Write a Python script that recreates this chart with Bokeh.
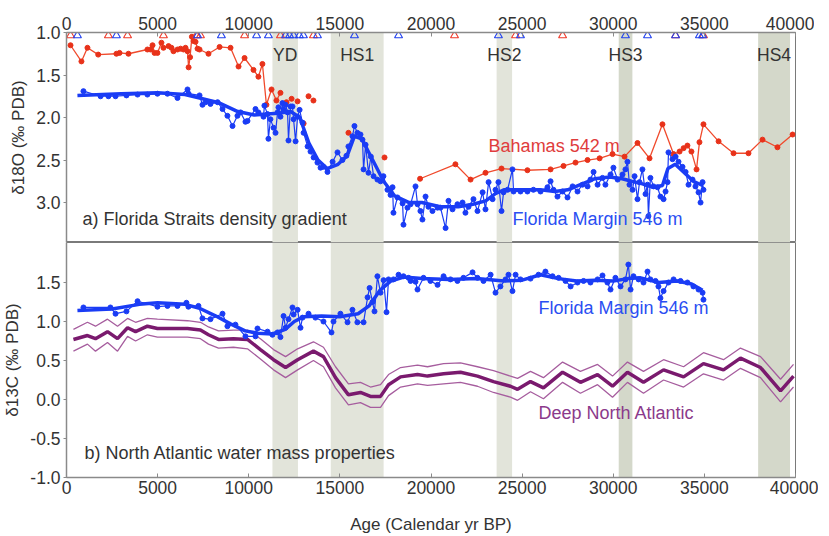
from bokeh.plotting import figure
from bokeh.models import Range1d, FixedTicker, NumeralTickFormatter, BoxAnnotation, Label
from bokeh.layouts import column
from bokeh.embed import file_html
from bokeh.resources import INLINE

# ---------------- data ----------------
x_ticks = [0, 5000, 10000, 15000, 20000, 25000, 30000, 35000, 40000]
top_yticks = [1.0, 1.5, 2.0, 2.5, 3.0]
bot_yticks = [-1.0, -0.5, 0.0, 0.5, 1.0, 1.5]

band_names = ["YD", "HS1", "HS2", "HS3", "HS4"]
band_left = [11300, 14500, 23600, 30300, 37950]
band_right = [12700, 17400, 24450, 31050, 39700]

# Bahamas 542 m d18O
bah1_age = [220, 820, 1150, 1740, 2740, 2910, 3400, 4440, 4610, 4720, 4830, 4990, 5210, 5320,
            5600, 5760, 5870, 6090, 6260, 6420, 6530, 6640, 6700, 6780, 6880, 6970, 7080, 7190,
            7300, 7790, 8400, 9000, 9440, 9770, 10260, 10530, 10750, 10970, 11250, 11520, 11740]
bah1_val = [1.15, 1.34, 1.18, 1.26, 1.25, 1.24, 1.25, 1.20, 1.20, 1.15, 1.24, 1.24, 1.12, 1.18,
            1.16, 1.18, 1.22, 1.20, 1.19, 1.20, 1.18, 1.22, 1.41, 1.29, 1.05, 1.10, 1.11, 1.19,
            1.20, 1.25, 1.17, 1.18, 1.40, 1.30, 1.44, 1.52, 1.37, 1.85, 1.67, 1.80, 1.71]
bah_dot_age = [12070, 12350, 12680, 13010, 13280, 13550, 15470, 17450]
bah_dot_val = [1.82, 1.78, 1.81, 2.07, 1.75, 1.80, 2.18, 2.47]
bah2_age = [19400, 21340, 22170, 22990, 23870, 25290, 26560, 27270, 27930, 28590, 29250, 29960,
            30620, 31330, 31990, 32700, 33310, 33640, 33860, 34070, 34290, 34570, 34730, 34950,
            35780, 36600, 37420, 38190, 39010, 39840]
bah2_val = [2.72, 2.55, 2.73, 2.65, 2.60, 2.62, 2.61, 2.57, 2.53, 2.50, 2.48, 2.43,
            2.46, 2.30, 2.48, 2.08, 2.43, 2.40, 2.36, 2.33, 2.40, 2.61, 2.29, 2.08,
            2.28, 2.42, 2.42, 2.26, 2.35, 2.20]

# Florida Margin 546 m d18O (raw)
fm_o_age = [930, 1870, 2300, 2690, 3290, 3900, 4440, 4990, 5540, 6090, 6640, 6700, 7300, 7460,
            7630, 7900, 8290, 8560, 8830, 9110, 9380, 9550, 9820, 9930, 10370, 10530, 10810,
            10860, 11030, 11080, 11190, 11360, 11470, 11580, 11630, 11740, 11850, 11910, 12020,
            12130, 12180, 12290, 12400, 12460, 12570, 12680, 12790, 12950, 13010, 13230, 13390,
            13560, 13770, 13940, 14100, 14320, 14600, 14870, 15140, 15360, 15470, 15690, 15800,
            15960, 16130, 16240, 16300, 16410, 16570, 16700, 16850, 17060, 17230, 17390, 17610,
            17780, 17890, 17940, 18160, 18440, 18490, 18710, 18880, 19150, 19260, 19420, 19530,
            19700, 19860, 20080, 20360, 20520, 20800, 20960, 21180, 21450, 21730, 21890, 22060,
            22330, 22550, 22830, 22990, 23160, 23380, 23540, 23700, 23870, 23980, 24200, 24470,
            24530, 24910, 25290, 25620, 26010, 26390, 26560, 26720, 26940, 27220, 27490, 27770,
            28040, 28310, 28590, 28750, 28920, 29140, 29410, 29570, 29850, 30010, 30240, 30510,
            30670, 30780, 30890, 31060, 31170, 31330, 31440, 31600, 31770, 31880, 31930, 32040,
            32210, 32430, 32590, 32760, 32870, 32980, 33030, 33250, 33420, 33580, 33800, 33970,
            34130, 34350, 34510, 34680, 34790, 34900, 34950]
fm_o_val = [1.69, 1.75, 1.75, 1.75, 1.74, 1.73, 1.73, 1.72, 1.72, 1.77, 1.67, 1.72, 1.74, 1.85,
            1.82, 1.84, 1.82, 1.90, 1.98, 2.10, 1.98, 1.94, 2.05, 2.04, 1.90, 1.94, 1.99,
            1.86, 1.96, 2.25, 2.02, 2.12, 2.18, 1.94, 1.88, 1.99, 1.83, 1.91, 1.85,
            1.94, 2.27, 1.87, 1.87, 2.02, 2.28, 1.99, 1.91, 2.06, 2.18, 2.34, 2.40,
            2.47, 2.53, 2.59, 2.58, 2.64, 2.52, 2.41, 2.50, 2.45, 2.34, 2.22, 2.10,
            2.18, 2.20, 2.26, 2.61, 2.32, 2.65, 2.46, 2.69, 2.73, 2.75, 2.69, 2.85,
            2.91, 2.82, 3.12, 2.94, 3.01, 3.26, 3.06, 3.02, 2.81, 3.02, 3.10, 3.20,
            2.93, 3.05, 3.10, 3.06, 3.06, 3.30, 2.98, 3.08, 3.02, 3.00, 3.12, 3.05,
            2.96, 3.10, 2.88, 3.08, 2.76, 2.96, 2.85, 2.76, 3.10, 2.88, 2.85, 2.61,
            2.87, 2.87, 2.87, 2.85, 2.87, 2.82, 2.75, 2.85, 2.93, 2.87, 2.94, 2.81,
            2.87, 2.79, 2.81, 2.73, 2.64, 2.79, 2.71, 2.79, 2.67, 2.59, 2.73, 2.67,
            2.61, 2.52, 2.79, 2.85, 2.69, 2.96, 2.76, 2.61, 2.90, 2.79, 3.16, 2.71,
            2.81, 2.82, 2.93, 2.96, 2.87, 2.76, 2.41, 2.49, 2.46, 2.52, 2.58, 2.64,
            2.79, 2.73, 2.81, 2.88, 3.00, 2.76, 2.85]
# Florida Margin d18O smoothed
fm_o_sm_age = [600, 3000, 5000, 6500, 7300, 8400, 9400, 10300, 11000, 11600, 12300, 12800, 13300,
               13800, 14300, 14900, 15400, 15800, 16200, 16800, 17400, 18000, 18800, 19500, 20500,
               21500, 22300, 23000, 23500, 24000, 25000, 26000, 26800, 27500, 28300, 29000, 29800,
               30500, 31000, 31600, 32200, 32700, 33000, 33400, 33900, 34400, 34900]
fm_o_sm_val = [1.74, 1.72, 1.71, 1.73, 1.77, 1.83, 1.93, 1.97, 1.96, 1.95, 1.93, 2.00, 2.30,
               2.50, 2.60, 2.55, 2.45, 2.22, 2.25, 2.50, 2.75, 2.92, 3.00, 3.00, 3.05,
               3.05, 3.02, 2.98, 2.90, 2.85, 2.85, 2.85, 2.87, 2.85, 2.78, 2.72, 2.70,
               2.72, 2.75, 2.78, 2.82, 2.80, 2.60, 2.55, 2.65, 2.75, 2.80]

# Florida Margin 546 m d13C (raw)
fm_c_age = [930, 2410, 2690, 3290, 3900, 4990, 5540, 6090, 6580, 6690, 7240, 7460, 7900, 8560,
            8830, 9270, 9820, 10370, 10480, 11030, 11300, 11580, 11740, 11910, 12020, 12180,
            12400, 12460, 12680, 12840, 12950, 13280, 13660, 14100, 14540, 14650, 15030, 15420,
            15690, 15960, 16300, 16520, 16630, 16790, 16900, 17060, 17230, 17400, 17560, 17670,
            17940, 18220, 18490, 18770, 18880, 19150, 19260, 19590, 19970, 20360, 20690, 21070,
            21450, 21780, 22280, 22550, 22880, 23270, 23540, 23810, 24090, 24250, 24470, 24640,
            24910, 25460, 25900, 26280, 26670, 27000, 27380, 27660, 28040, 28370, 28750, 29140,
            29410, 29680, 29850, 30120, 30400, 30670, 30830, 30950, 31110, 31390, 31660, 31880,
            32040, 32320, 32480, 32590, 32760, 33030, 33310, 33690, 34070, 34400, 34680, 34900,
            34950]
fm_c_val = [1.18, 1.18, 1.10, 1.13, 1.26, 1.19, 1.20, 1.20, 1.24, 1.19, 1.20, 1.04, 1.03, 1.10,
            0.94, 0.96, 0.81, 0.81, 0.91, 0.87, 0.83, 0.86, 0.80, 1.07, 0.92, 1.03,
            1.18, 1.09, 1.15, 0.92, 1.05, 1.10, 1.05, 1.00, 0.86, 1.00, 1.10, 0.99,
            1.15, 0.99, 0.99, 1.31, 1.43, 1.25, 1.13, 1.58, 1.37, 1.53, 1.12, 1.54,
            1.54, 1.60, 1.58, 1.56, 1.52, 1.51, 1.41, 1.56, 1.52, 1.47, 1.58, 1.54,
            1.52, 1.56, 1.63, 1.56, 1.52, 1.60, 1.37, 1.45, 1.54, 1.60, 1.39, 1.60,
            1.54, 1.55, 1.60, 1.64, 1.58, 1.56, 1.52, 1.45, 1.50, 1.52, 1.50, 1.54,
            1.59, 1.50, 1.41, 1.56, 1.45, 1.54, 1.73, 1.41, 1.58, 1.54, 1.50, 1.64,
            1.54, 1.52, 1.45, 1.30, 1.39, 1.50, 1.54, 1.52, 1.50, 1.45, 1.41, 1.37,
            1.28]
fm_c_sm_age = [600, 2500, 4000, 5000, 6500, 7300, 8200, 9000, 9800, 10500, 11300, 12000, 12500,
               13000, 14000, 15000, 16000, 16600, 17200, 17800, 18500, 19500, 21000, 22500,
               24000, 25000, 26000, 27000, 28000, 29000, 30000, 30800, 31500, 32500, 33500,
               34300, 34900]
fm_c_sm_val = [1.14, 1.16, 1.22, 1.24, 1.22, 1.17, 1.07, 0.97, 0.88, 0.85, 0.84, 0.90, 1.00,
               1.06, 1.07, 1.06, 1.10, 1.20, 1.40, 1.52, 1.57, 1.55, 1.54, 1.55,
               1.52, 1.53, 1.60, 1.55, 1.52, 1.53, 1.52, 1.55, 1.56, 1.50, 1.52,
               1.48, 1.40]

# Deep North Atlantic d13C
dna_age = [380, 1150, 1590, 2250, 2800, 3350, 3790, 4440, 4990, 6640, 7350, 7790, 8340, 9160,
           9930, 10640, 11360, 12020, 12680, 13550, 14100, 14760, 15470, 16130, 16680, 17230,
           17670, 18330, 19260, 19810, 20690, 21620, 22550, 23430, 24360, 24750, 25460, 26170,
           27220, 28200, 29140, 29960, 30780, 31660, 32760, 33860, 34950, 36050, 36980, 38080,
           39180, 39890]
dna_mid = [0.77, 0.82, 0.78, 0.87, 0.78, 0.92, 0.87, 0.94, 0.91, 0.91, 0.89, 0.83, 0.77, 0.78,
           0.77, 0.64, 0.51, 0.41, 0.51, 0.62, 0.55, 0.28, 0.06, 0.09, 0.04, 0.04,
           0.19, 0.29, 0.32, 0.30, 0.33, 0.35, 0.30, 0.23, 0.17, 0.13, 0.23, 0.15,
           0.35, 0.22, 0.32, 0.17, 0.35, 0.22, 0.38, 0.29, 0.46, 0.38, 0.53, 0.41,
           0.11, 0.30]
dna_upper = [0.90, 0.99, 0.94, 1.03, 0.94, 1.04, 0.99, 1.04, 1.03, 1.01, 0.99, 0.93, 0.88, 0.89,
             0.89, 0.78, 0.64, 0.55, 0.65, 0.74, 0.67, 0.42, 0.20, 0.22, 0.16, 0.19,
             0.32, 0.41, 0.44, 0.42, 0.46, 0.47, 0.42, 0.37, 0.30, 0.27, 0.36, 0.28,
             0.48, 0.36, 0.45, 0.30, 0.48, 0.36, 0.51, 0.42, 0.60, 0.51, 0.66, 0.55,
             0.26, 0.45]
dna_lower = [0.62, 0.71, 0.62, 0.73, 0.62, 0.81, 0.75, 0.83, 0.80, 0.80, 0.78, 0.71, 0.66, 0.67,
             0.65, 0.52, 0.38, 0.28, 0.38, 0.50, 0.42, 0.15, -0.07, -0.04, -0.10, -0.10,
             0.05, 0.16, 0.20, 0.18, 0.20, 0.22, 0.17, 0.09, 0.03, -0.01, 0.10, 0.01,
             0.22, 0.08, 0.19, 0.03, 0.22, 0.08, 0.25, 0.16, 0.33, 0.25, 0.40, 0.28,
             -0.03, 0.16]

# age control points (top)
red_ctrl_age = [220, 2300, 3350, 5320, 7130, 7350, 9770, 11740, 13550, 21290, 24640, 27220,
                33420, 34950]
blue_ctrl_age = [600, 2740, 7190, 8500, 10430, 11080, 12020, 12240, 12460, 12780, 13000, 13770,
                 15800, 18220, 23700, 24910, 30670, 31880, 33420, 34730, 34900]

# ---------------- style ----------------
FONT = "Liberation Sans"
TXT = "#333333"
AXC = "#8a8a8a"
RED = "#f04a2c"
REDDOT = "#e8321a"
BLUE = "#1a3cf5"
PURPLE = "#7a1a6e"
PURPLE_T = "#a65d9e"
band_colors = ["#e2e4da", "#e2e4da", "#e2e4da", "#d4d8ca", "#d4d8ca"]
TICK_FS = "17.5px"
ANN_FS = "18px"


def style(p, yticks):
    p.xgrid.visible = False
    p.ygrid.visible = False
    p.outline_line_color = "#7a7a7a"
    p.outline_line_width = 1
    p.background_fill_color = "white"
    p.border_fill_color = "white"
    for ax in p.xaxis:
        ax.ticker = FixedTicker(ticks=x_ticks)
        ax.formatter = NumeralTickFormatter(format="0")
        ax.axis_line_color = AXC
        ax.axis_line_width = 1.5
        ax.major_tick_line_color = AXC
        ax.major_tick_in = 4
        ax.major_tick_out = 0
        ax.minor_tick_line_color = None
        ax.major_label_text_font = FONT
        ax.major_label_text_font_size = TICK_FS
        ax.major_label_text_color = TXT
        ax.major_label_standoff = 3
    for ax in p.yaxis:
        ax.ticker = FixedTicker(ticks=yticks)
        ax.formatter = NumeralTickFormatter(format="0.0")
        ax.axis_line_color = AXC
        ax.axis_line_width = 1.5
        ax.major_tick_line_color = AXC
        ax.major_tick_in = 0
        ax.major_tick_out = 3
        ax.minor_tick_line_color = None
        ax.major_label_text_font = FONT
        ax.major_label_text_font_size = TICK_FS
        ax.major_label_text_color = TXT
        ax.major_label_standoff = 3
        ax.axis_label_text_font = FONT
        ax.axis_label_text_font_size = "17px"
        ax.axis_label_text_font_style = "normal"
        ax.axis_label_text_color = TXT
        ax.axis_label_standoff = 5
    for l, r, c in zip(band_left, band_right, band_colors):
        p.add_layout(BoxAnnotation(left=l, right=r, fill_color=c, fill_alpha=1.0,
                                   line_color=None, level="underlay"))


# ---------------- top panel ----------------
p1 = figure(frame_width=729, frame_height=210, x_range=Range1d(0, 40000),
            y_range=Range1d(3.47, 1.0), x_axis_location="above",
            output_backend="svg", toolbar_location=None,
            min_border_left=62, min_border_right=23, min_border_top=32, min_border_bottom=0)
style(p1, top_yticks)
p1.yaxis.axis_label = "δ18O (‰ PDB)"

p1.line(bah1_age, bah1_val, line_color=RED, line_width=1.3)
p1.scatter(bah1_age, bah1_val, size=5, color=REDDOT)
p1.scatter(bah_dot_age, bah_dot_val, size=5, color=REDDOT)
p1.line(bah2_age, bah2_val, line_color=RED, line_width=1.3)
p1.scatter(bah2_age, bah2_val, size=5, color=REDDOT)

p1.line(fm_o_age, fm_o_val, line_color=BLUE, line_width=1.2)
p1.scatter(fm_o_age, fm_o_val, size=5, color=BLUE)
p1.line(fm_o_sm_age, fm_o_sm_val, line_color=BLUE, line_width=3.5)

p1.scatter(red_ctrl_age, [1.035] * len(red_ctrl_age), marker="triangle", size=8,
           fill_color=None, line_color="#f03a2a", line_width=1.1)
p1.scatter(blue_ctrl_age, [1.035] * len(blue_ctrl_age), marker="triangle", size=8,
           fill_color=None, line_color="#2040f0", line_width=1.1)

for name, l, r in zip(band_names, band_left, band_right):
    p1.add_layout(Label(x=(l + r) / 2, y=1.27, text=name, text_align="center",
                        text_baseline="middle", text_font=FONT, text_font_size="17.5px",
                        text_color=TXT))

p1.add_layout(Label(x=23160, y=2.34, text="Bahamas 542 m", text_baseline="middle",
                    text_font=FONT, text_font_size=ANN_FS, text_color="#e03c3c"))
p1.add_layout(Label(x=24470, y=3.19, text="Florida Margin 546 m", text_baseline="middle",
                    text_font=FONT, text_font_size=ANN_FS, text_color="#2a4ef2"))
p1.add_layout(Label(x=880, y=3.19, text="a) Florida Straits density gradient",
                    text_baseline="middle", text_font=FONT, text_font_size=ANN_FS,
                    text_color=TXT))

# ---------------- bottom panel ----------------
p2 = figure(frame_width=729, frame_height=235, x_range=p1.x_range,
            y_range=Range1d(-1.0, 2.013), x_axis_location="below",
            output_backend="svg", toolbar_location=None,
            min_border_left=62, min_border_right=23, min_border_top=0, min_border_bottom=54)
style(p2, bot_yticks)
p2.yaxis.axis_label = "δ13C (‰ PDB)"
p2.xaxis.axis_label = "Age (Calendar yr BP)"
p2.xaxis.axis_label_text_font = FONT
p2.xaxis.axis_label_text_font_size = "17px"
p2.xaxis.axis_label_text_font_style = "normal"
p2.xaxis.axis_label_text_color = TXT
p2.xaxis.axis_label_standoff = 18

p2.line(dna_age, dna_upper, line_color=PURPLE_T, line_width=1.3)
p2.line(dna_age, dna_lower, line_color=PURPLE_T, line_width=1.3)
p2.line(dna_age, dna_mid, line_color=PURPLE, line_width=3.5)

p2.line(fm_c_age, fm_c_val, line_color=BLUE, line_width=1.2)
p2.scatter(fm_c_age, fm_c_val, size=5, color=BLUE)
p2.line(fm_c_sm_age, fm_c_sm_val, line_color=BLUE, line_width=3.5)

p2.add_layout(Label(x=25900, y=1.17, text="Florida Margin 546 m", text_baseline="middle",
                    text_font=FONT, text_font_size=ANN_FS, text_color="#2a4ef2"))
p2.add_layout(Label(x=25900, y=-0.17, text="Deep North Atlantic", text_baseline="middle",
                    text_font=FONT, text_font_size=ANN_FS, text_color="#8b3a8b"))
p2.add_layout(Label(x=990, y=-0.68, text="b) North Atlantic water mass properties",
                    text_baseline="middle", text_font=FONT, text_font_size=ANN_FS,
                    text_color=TXT))

layout = column(p1, p2, spacing=0)
open("out.html", "w").write(file_html(layout, INLINE))
